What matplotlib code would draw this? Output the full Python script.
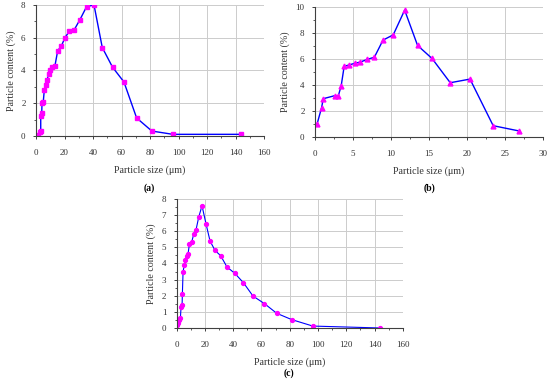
import numpy as np
import matplotlib
matplotlib.use('Agg')
import matplotlib.pyplot as plt
from matplotlib.ticker import MultipleLocator

plt.rcParams['font.family'] = ['Liberation Serif', 'DejaVu Serif']

# (a) particle size distribution
size_a = [0, 1.2, 2.5, 3.3, 3.3, 4.0, 4.2, 5.1, 5.8, 6.8, 7.7, 8.9, 10.0, 11.4, 13.3,
          15.2, 17.8, 20.3, 23.4, 26.9, 30.8, 35.5, 40.7, 46.5, 53.7, 61.7, 70.6,
          81.3, 96.0, 144.0]
content_a = [0, 0.05, 0.25, 0.3, 1.2, 1.4, 2.0, 2.1, 2.8, 3.1, 3.4, 3.8, 4.0, 4.2, 4.3,
             5.2, 5.5, 6.0, 6.4, 6.5, 7.1, 7.9, 8.0, 5.4, 4.2, 3.3, 1.1,
             0.3, 0.1, 0.1]

# (b)
size_b = [0.26, 0.87, 1.09, 2.58, 3.06, 3.45, 3.84, 4.54, 5.2, 5.94, 6.86, 7.82,
          8.95, 10.3, 11.8, 13.5, 15.4, 17.8, 20.4, 23.45, 26.9]
content_b = [0.97, 2.26, 2.95, 3.18, 3.15, 3.95, 5.44, 5.56, 5.67, 5.77, 5.97, 6.15,
             7.46, 7.87, 9.77, 7.05, 6.05, 4.18, 4.46, 0.87, 0.46]

# (c)
size_c = [0.2, 0.9, 1.65, 2.6, 3.1, 3.8, 4.0, 4.5, 5.4, 6.1, 7.1, 8.0, 9.0, 10.6,
          12.0, 13.7, 15.6, 17.9, 20.8, 23.6, 27.1, 31.1, 35.6, 41.1, 47.2, 54.0,
          62.1, 70.8, 81.4, 96.3, 144.2]
content_c = [0.2, 0.33, 0.5, 0.62, 1.32, 1.4, 2.09, 3.5, 3.9, 4.2, 4.48, 4.59, 5.19,
             5.33, 5.8, 6.1, 6.88, 7.58, 6.43, 5.39, 4.81, 4.48, 3.78, 3.39, 2.81,
             1.98, 1.51, 0.91, 0.52, 0.12, 0.0]

fig = plt.figure(figsize=(5.5, 3.83), dpi=100)


def style(ax, xmax, xmaj, ymax, ymaj):
    ax.set_xlim(0, xmax)
    ax.set_ylim(0, ymax)
    ax.xaxis.set_major_locator(MultipleLocator(xmaj))
    ax.xaxis.set_minor_locator(MultipleLocator(xmaj / 2))
    ax.yaxis.set_major_locator(MultipleLocator(ymaj))
    ax.yaxis.set_minor_locator(MultipleLocator(ymaj / 2))
    ax.grid(True, which='major', color='#cccccc', lw=0.7)
    ax.set_axisbelow(True)
    for s in ['top', 'right']:
        ax.spines[s].set_visible(False)
    for s in ['left', 'bottom']:
        ax.spines[s].set_color('#404040')
        ax.spines[s].set_linewidth(0.8)
    ax.tick_params(which='major', length=2.5, width=0.7, color='#404040',
                   labelsize=6.5, labelcolor='#333333')
    ax.tick_params(axis='x', which='major', pad=7)
    ax.tick_params(axis='y', which='major', pad=5)
    ax.tick_params(which='minor', length=1.6, width=0.6, color='#404040')
    ax.set_xlabel('Particle size (μm)', fontsize=7.2, labelpad=6, color='#333333')
    ax.set_ylabel('Particle content (%)', fontsize=7.2, labelpad=4, color='#333333')


ax_a = fig.add_axes([0.0655, 0.645, 0.4145, 0.342])
ax_a.plot(size_a, content_a, color='#0000ff', lw=1.0, marker='s', ms=3,
          mfc='#ff00ff', mec='#ff00ff')
style(ax_a, 160, 20, 8, 2)

ax_b = fig.add_axes([0.5727, 0.6423, 0.4145, 0.339])
ax_b.plot(size_b, content_b, color='#0000ff', lw=1.0, marker='^', ms=3.5,
          mfc='#ff00ff', mec='#ff00ff')
style(ax_b, 30, 5, 10, 2)

ax_c = fig.add_axes([0.3213, 0.1436, 0.411, 0.337])
ax_c.plot(size_c, content_c, color='#0000ff', lw=0.8, marker='o', ms=2.8,
          mfc='#ff00ff', mec='#ff00ff')
style(ax_c, 160, 20, 8, 1)

fig.text(0.272, 0.509, '(a)', fontsize=7, fontweight='bold', ha='center', va='center')
fig.text(0.78, 0.509, '(b)', fontsize=7, fontweight='bold', ha='center', va='center')
fig.text(0.525, 0.026, '(c)', fontsize=7, fontweight='bold', ha='center', va='center')

fig.savefig('out.png', dpi=100)
